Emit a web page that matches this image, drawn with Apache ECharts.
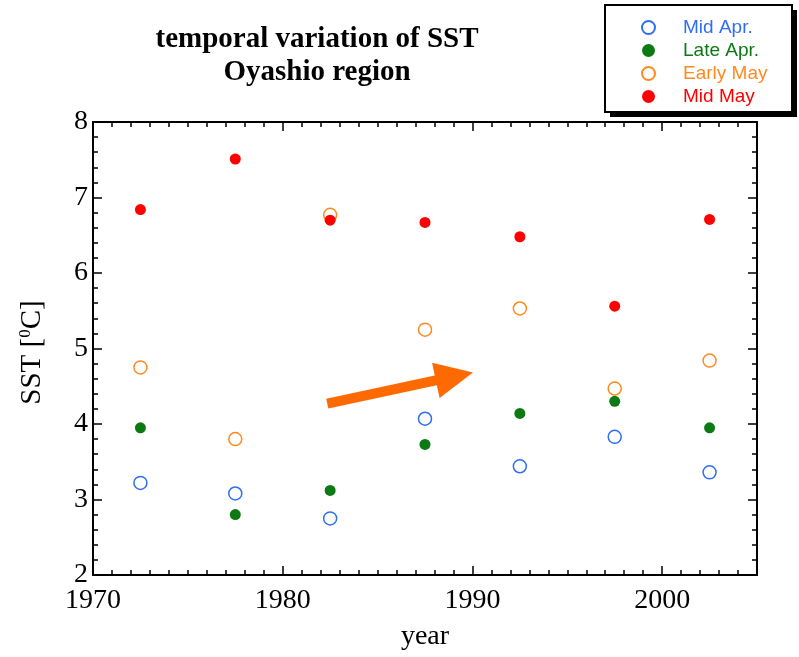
<!DOCTYPE html>
<html><head><meta charset="utf-8">
<script src="https://cdn.jsdelivr.net/npm/echarts@6/dist/echarts.min.js"></script>
<style>html,body{margin:0;padding:0;background:#fff}#c{width:799px;height:657px}</style>
</head><body><div id="c"></div>
<script>
const years = [1972.5, 1977.5, 1982.5, 1987.5, 1992.5, 1997.5, 2002.5];
const midApr = [3.22, 3.08, 2.75, 4.07, 3.44, 3.83, 3.36];
const lateApr = [3.95, 2.80, 3.12, 3.73, 4.14, 4.30, 3.95];
const earlyMay = [4.75, 3.80, 6.77, 5.25, 5.53, 4.47, 4.84];
const midMay = [6.84, 7.51, 6.70, 6.67, 6.48, 5.56, 6.71];
const seriesNames = ['Mid Apr.', 'Late Apr.', 'Early May', 'Mid May'];
// arrow annotation: tail and centre of the arrow head (data coords)
const trendArrow = [[1982.35, 4.27], [1989.05, 4.63]];

const colors = ['#2e6ff2', '#0b7a12', '#ff8a1f', '#ff0000'];
const hollow = [true, false, true, false];
const vals = [midApr, lateApr, earlyMay, midMay];

const chart = echarts.init(document.getElementById('c'));
const serif = '"Liberation Serif", "Times New Roman", serif';
function ax(extra, minorSplit) {
  return Object.assign({
    axisLine: {show: true, onZero: false, lineStyle: {color: '#000', width: 2}},
    axisTick: {show: true, inside: true, length: 9, lineStyle: {color: '#000', width: 1.5}},
    minorTick: {show: true, splitNumber: minorSplit, length: 5, lineStyle: {color: '#000', width: 1.5}},
    splitLine: {show: false}
  }, extra);
}

const series = vals.map((v, i) => ({
  name: seriesNames[i],
  type: 'scatter',
  symbol: 'circle',
  symbolSize: hollow[i] ? 13 : 11,
  data: years.map((y, k) => [y, v[k]]),
  itemStyle: hollow[i]
    ? {color: '#fff', borderColor: colors[i], borderWidth: 1.5, opacity: 1}
    : {color: colors[i], opacity: 1},
  z: 3 + i
}));
series.push({
  type: 'line', data: [], silent: true,
  markLine: {
    silent: true,
    symbol: ['none', 'triangle'],
    symbolSize: [36, 38],
    label: {show: false},
    lineStyle: {color: '#ff6a00', width: 10, type: 'solid', cap: 'butt'},
    itemStyle: {color: '#ff6a00'},
    emphasis: {disabled: true},
    data: [[{coord: trendArrow[0]}, {coord: trendArrow[1]}]]
  }
});

chart.setOption({
  animation: false,
  backgroundColor: '#fff',
  title: {
    text: 'temporal variation of SST\nOyashio region',
    left: 312, top: 18, textAlign: 'center',
    textStyle: {fontFamily: serif, fontWeight: 'bold', fontSize: 29, lineHeight: 33, color: '#000'}
  },
  graphic: [
    {type: 'rect', z: 1, shape: {x: 610, y: 10, width: 187, height: 107}, style: {fill: '#000'}},
    {type: 'rect', z: 2, shape: {x: 605, y: 5, width: 187, height: 107}, style: {fill: '#fff', stroke: '#000', lineWidth: 2}}
  ],
  legend: {
    orient: 'vertical', left: 605, top: 5, z: 10,
    padding: [13, 10, 10, 36],
    itemGap: 4, itemWidth: 13, itemHeight: 13,
    textStyle: {fontFamily: '"Liberation Sans", Arial, sans-serif', fontSize: 19, lineHeight: 19, padding: [0, 0, 0, 23]},
    data: seriesNames.map((n, i) => ({name: n, icon: 'circle', textStyle: {color: colors[i]}}))
  },
  grid: {left: 93, right: 42, top: 122, bottom: 82},
  xAxis: [
    ax({type: 'value', min: 1970, max: 2005, interval: 10, position: 'bottom',
      axisLabel: {fontFamily: serif, fontSize: 28, color: '#000', margin: 12,
        formatter: v => v % 10 === 0 ? String(v) : ''},
      name: 'year', nameLocation: 'middle', nameGap: 48,
      nameTextStyle: {fontFamily: serif, fontSize: 28, color: '#000'}}, 10),
    ax({type: 'value', min: 1970, max: 2005, interval: 10, position: 'top',
      axisLabel: {show: false}}, 10)
  ],
  yAxis: [
    ax({type: 'value', min: 2, max: 8, interval: 1, position: 'left',
      axisLabel: {fontFamily: serif, fontSize: 28, color: '#000', margin: 5},
      name: 'SST [{sup|0}C]', nameLocation: 'middle', nameGap: 46, nameRotate: 90,
      nameTextStyle: {fontFamily: serif, fontSize: 29, color: '#000', lineHeight: 30, padding: [0, 8, 0, 0],
        rich: {sup: {fontFamily: serif, fontSize: 17, color: '#000', verticalAlign: 'top', lineHeight: 30, padding: [0, 0, 10, 0]}}}}, 5),
    ax({type: 'value', min: 2, max: 8, interval: 1, position: 'right',
      axisLabel: {show: false}}, 5)
  ],
  series: series
});
</script></body></html>
